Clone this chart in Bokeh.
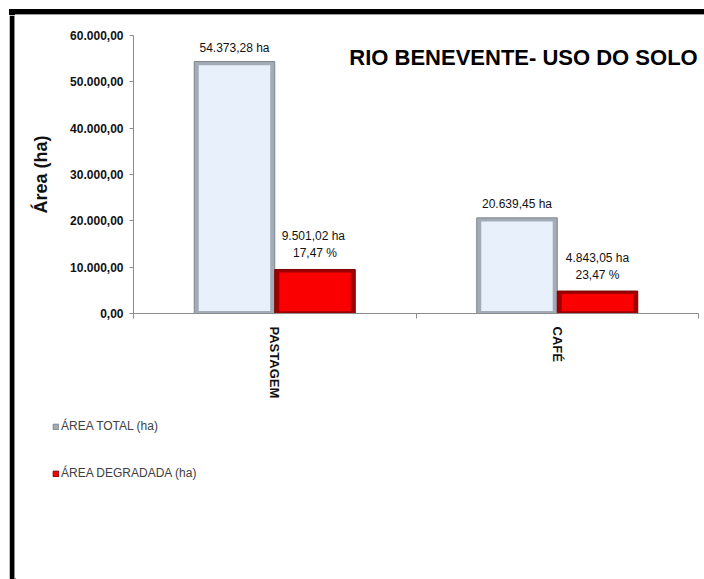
from bokeh.plotting import figure
from bokeh.layouts import column, row
from bokeh.models import (Range1d, FixedTicker, Label, Legend, LegendItem,
                          ColumnDataSource)
from bokeh.core.properties import value
from bokeh.embed import file_html
from bokeh.resources import INLINE

categories = ["PASTAGEM", "CAFÉ"]
area_total = [54373.28, 20639.45]
area_degradada = [9501.02, 4843.05]
label_total = ["54.373,28 ha", "20.639,45 ha"]
label_degradada = ["9.501,02  ha\n17,47 %", "4.843,05 ha\n23,47 %"]
y_ticks = [0, 10000, 20000, 30000, 40000, 50000, 60000]
y_tick_labels = ["0,00", "10.000,00", "20.000,00", "30.000,00",
                 "40.000,00", "50.000,00", "60.000,00"]
series_names = ["ÁREA TOTAL (ha)", "ÁREA DEGRADADA (ha)"]

FONT = "Liberation Sans"
M = 9          # page offset of the chart border
BW_ = 6        # border strip thickness (5 black + 1 gray)
OFF = M + BW_  # 15: where the chart content starts
W = 704 - OFF
H1 = 410 - OFF
H2 = 579 - 410
TOT_FILL, TOT_EDGE, TOT_LINE = "#e8f1fb", "#a3acb6", "#7c858e"
DEG_FILL, DEG_EDGE, DEG_LINE = "#fa0000", "#9e0000", "#7a0000"


def strip_fig(w, h):
    f = figure(width=w, height=h, output_backend="svg", toolbar_location=None,
               x_range=Range1d(0, w), y_range=Range1d(0, h),
               x_axis_location=None, y_axis_location=None, title_location=None,
               min_border_left=0, min_border_right=0,
               min_border_top=0, min_border_bottom=0)
    f.frame_align = False
    f.outline_line_color = None
    f.xgrid.visible = False
    f.ygrid.visible = False
    f.background_fill_color = "white"
    f.border_fill_color = "white"
    return f


# left border strip (drawn), top border via a shadow above the chart
left_strip = strip_fig(BW_, 579 - OFF)
left_strip.styles = {"box-shadow": "0 -6px 0 0 #000000"}
left_strip.quad(left=[0], right=[BW_ - 1], bottom=[0], top=[579 - OFF],
                fill_color="#000000", line_color=None)
left_strip.quad(left=[BW_ - 1], right=[BW_], bottom=[0], top=[579 - OFF],
                fill_color="#9a9a9a", line_color=None)

p = figure(width=W, height=H1, output_backend="svg", toolbar_location=None,
           x_range=Range1d(0, len(categories)), y_range=Range1d(0, 60000),
           min_border_left=133 - OFF, min_border_right=6, min_border_top=35 - OFF,
           min_border_bottom=410 - 313)
p.frame_align = False
p.styles = {"box-shadow": "0 -1px 0 0 #9a9a9a, 0 -6px 0 0 #000000"}
p.outline_line_color = None
p.xgrid.visible = False
p.ygrid.visible = False
p.background_fill_color = "white"
p.border_fill_color = "white"

bw = 0.285
bev_x = 0.016
bev_y = 800
centers = [i + 0.5 for i in range(len(categories))]
x_tot = [c - bw / 2 for c in centers]
x_deg = [c + bw / 2 for c in centers]

src_t = ColumnDataSource(dict(x=x_tot, top=area_total, lab=label_total,
                              itop=[v - bev_y for v in area_total]))
src_d = ColumnDataSource(dict(x=x_deg, top=area_degradada, lab=label_degradada,
                              itop=[v - bev_y * 0.8 for v in area_degradada]))

p.vbar(x="x", top="top", bottom=0, width=bw, source=src_t,
       fill_color=TOT_EDGE, line_color=TOT_LINE, line_width=1)
p.vbar(x="x", top="itop", bottom=bev_y * 0.7, width=bw - 2 * bev_x, source=src_t,
       fill_color=TOT_FILL, line_color=None)
p.vbar(x="x", top="top", bottom=0, width=bw, source=src_d,
       fill_color=DEG_EDGE, line_color=DEG_LINE, line_width=1)
p.vbar(x="x", top="itop", bottom=bev_y * 0.6, width=bw - 2 * bev_x, source=src_d,
       fill_color=DEG_FILL, line_color=None)

p.text(x="x", y="top", text="lab", source=src_t, text_align="center",
       text_baseline="bottom", y_offset=-7, text_font=value(FONT),
       text_font_size="12px", text_color="#111111")
p.text(x="x", y="top", text="lab", source=src_d, text_align="center",
       text_baseline="bottom", y_offset=-9, text_font=value(FONT),
       text_font_size="12px", text_color="#111111", text_line_height=1.25)

# axes
yax = p.yaxis[0]
yax.ticker = FixedTicker(ticks=y_ticks)
yax.major_label_overrides = {t: l for t, l in zip(y_ticks, y_tick_labels)}
yax.axis_line_color = "#8c8c8c"
yax.major_tick_line_color = "#8c8c8c"
yax.major_tick_out = 4
yax.major_tick_in = 0
yax.minor_tick_line_color = None
yax.major_label_text_font = FONT
yax.major_label_text_font_size = "12px"
yax.major_label_text_font_style = "bold"
yax.major_label_text_color = "#111111"
yax.major_label_standoff = 6
yax.axis_label = "Área (ha)"
yax.axis_label_text_font = FONT
yax.axis_label_text_font_size = "18px"
yax.axis_label_text_font_style = "bold"
yax.axis_label_text_color = "#111111"
yax.axis_label_standoff = 16

xax = p.xaxis[0]
xax.ticker = FixedTicker(ticks=centers, minor_ticks=list(range(len(categories) + 1)))
xax.major_label_overrides = {c: n for c, n in zip(centers, categories)}
xax.major_label_orientation = "vertical"
xax.axis_line_color = "#8c8c8c"
xax.major_tick_line_color = None
xax.major_tick_out = 0
xax.major_tick_in = 0
xax.minor_tick_line_color = "#8c8c8c"
xax.minor_tick_out = 5
xax.minor_tick_in = 0
xax.major_label_text_font = FONT
xax.major_label_text_font_size = "13px"
xax.major_label_text_font_style = "bold"
xax.major_label_text_color = "#111111"
xax.major_label_standoff = 8

# title
p.add_layout(Label(x=390, y=256, x_units="screen", y_units="screen",
                   text="RIO BENEVENTE- USO DO SOLO", text_align="center",
                   text_baseline="middle", text_font=FONT, text_font_size="22px",
                   text_font_style="bold", text_color="#000000"))

# legend panel (separate figure below the chart)
p2 = strip_fig(W, H2)
lt = p2.vbar(x=[-50], top=[1], width=1, fill_color=TOT_EDGE, line_color=TOT_LINE)
ld = p2.vbar(x=[-50], top=[1], width=1, fill_color=DEG_FILL, line_color=DEG_LINE)
legend = Legend(items=[LegendItem(label=series_names[0], renderers=[lt]),
                       LegendItem(label=series_names[1], renderers=[ld])],
                location=(52 - OFF, 579 - 480), orientation="vertical",
                glyph_width=7, glyph_height=7, label_height=14, spacing=33,
                label_standoff=2, padding=0, margin=0,
                label_text_font=FONT, label_text_font_size="12px",
                label_text_color="#404040", border_line_color=None,
                background_fill_alpha=0)
p2.add_layout(legend, "center")

layout = row(left_strip, column(p, p2, spacing=0), spacing=0,
             margin=(OFF, 0, 0, M))

open("out.html", "w").write(file_html(layout, INLINE))
